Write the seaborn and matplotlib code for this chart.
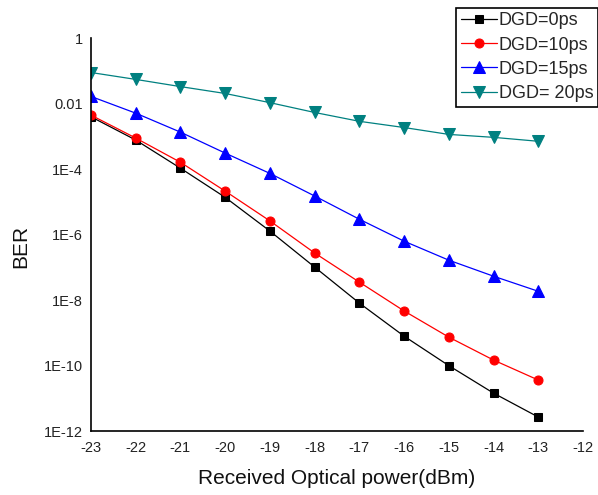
import numpy as np
import pandas as pd
import matplotlib
matplotlib.use("Agg")
import matplotlib.pyplot as plt
import seaborn as sns

power = [-23, -22, -21, -20, -19, -18, -17, -16, -15, -14, -13]
log_ber_0 = [-2.40, -3.11, -3.97, -4.86, -5.89, -6.99, -8.09, -9.10, -10.00, -10.84, -11.57]
log_ber_10 = [-2.35, -3.05, -3.79, -4.67, -5.58, -6.56, -7.45, -8.33, -9.13, -9.83, -10.44]
log_ber_15 = [-1.78, -2.29, -2.87, -3.51, -4.13, -4.82, -5.53, -6.20, -6.78, -7.27, -7.73]
log_ber_20 = [-1.05, -1.26, -1.48, -1.69, -1.97, -2.27, -2.54, -2.73, -2.94, -3.03, -3.15]

labels = ["DGD=0ps", "DGD=10ps", "DGD=15ps", "DGD= 20ps"]
colors = ["#000000", "#FF0000", "#0000FF", "#008080"]
markers = ["s", "o", "^", "v"]
msizes = [5.5, 6.5, 8, 8]

xticks = [-23, -22, -21, -20, -19, -18, -17, -16, -15, -14, -13, -12]
yticks_exp = [0, -2, -4, -6, -8, -10, -12]
ytick_labels = ["1", "0.01", "1E-4", "1E-6", "1E-8", "1E-10", "1E-12"]

sns.set_theme(style="white")
plt.rcParams["font.family"] = ["Liberation Sans", "DejaVu Sans"]

fig = plt.figure(figsize=(5.98, 4.95), dpi=100)
ax = fig.add_axes([0.152, 0.129, 0.823, 0.794])

series = [log_ber_0, log_ber_10, log_ber_15, log_ber_20]
for vals, lab, c, m, ms in zip(series, labels, colors, markers, msizes):
    df = pd.DataFrame({"x": power, "y": np.power(10.0, vals)})
    sns.lineplot(data=df, x="x", y="y", ax=ax, color=c, marker=m,
                 markersize=ms, markeredgecolor=c, linewidth=0.9, label=lab)

ax.set_yscale("log")
ax.set_xlim(-23, -12)
ax.set_ylim(1e-12, 1)
ax.set_xticks(xticks)
ax.set_xticklabels([str(t) for t in xticks])
ax.set_yticks([10.0 ** e for e in yticks_exp])
ax.set_yticklabels(ytick_labels)
ax.minorticks_off()
ax.yaxis.set_minor_locator(matplotlib.ticker.NullLocator())
ax.tick_params(axis="both", length=0, labelsize=10.5, colors="#222222")
ax.tick_params(axis="y", pad=6)
ax.tick_params(axis="x", pad=7)

for s in ["top", "right"]:
    ax.spines[s].set_visible(False)
for s in ["left", "bottom"]:
    ax.spines[s].set_color("black")
    ax.spines[s].set_linewidth(1.2)

ax.set_xlabel("Received Optical power(dBm)", fontsize=15, color="#111111", labelpad=10)
ax.set_ylabel("BER", fontsize=15, color="#111111")
ax.yaxis.set_label_coords(-0.124, 0.47)

leg = ax.legend(loc="upper right", bbox_to_anchor=(1.03, 1.077), fontsize=13,
                frameon=True, fancybox=False, framealpha=1, edgecolor="black",
                handlelength=2.0, handletextpad=0.1, borderpad=0.25,
                labelspacing=0.4, borderaxespad=0)
leg.get_frame().set_linewidth(1.2)

fig.savefig("out.png", dpi=100)
